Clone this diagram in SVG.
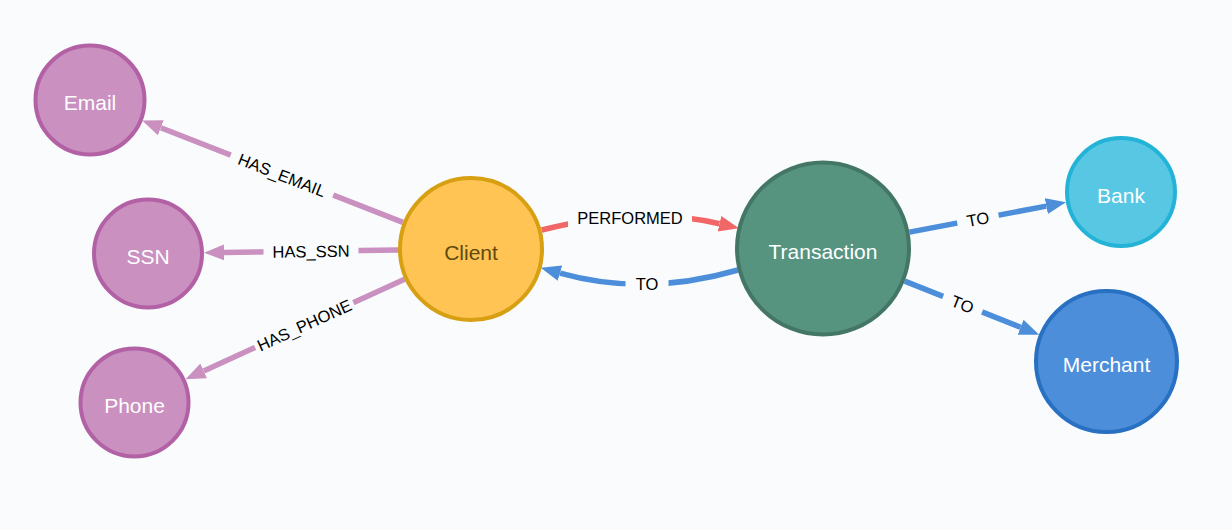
<svg xmlns="http://www.w3.org/2000/svg" width="1232" height="530" viewBox="0 0 1232 530">
<style>
.bg{fill:#f9fbfd}
.ntext{font-family:"Liberation Sans",Arial,sans-serif;font-size:21px;text-anchor:middle;fill:#ffffff}
.etext{font-family:"Liberation Sans",Arial,sans-serif;font-size:16.5px;text-anchor:middle;fill:#000000}
.edge{fill:none;stroke-width:5.5}
.lblbg{fill:#f9fbfd}
.purple{fill:#C990C0;stroke:#b261a5;stroke-width:4}
</style>
<defs>
<marker id="aP" markerUnits="userSpaceOnUse" markerWidth="22" markerHeight="20" refX="0" refY="9" orient="auto" viewBox="0 0 22 20"><path d="M0,1 L20,9 L0,17 Z" fill="#C990C0"/></marker>
<marker id="aR" markerUnits="userSpaceOnUse" markerWidth="22" markerHeight="20" refX="0" refY="9" orient="auto" viewBox="0 0 22 20"><path d="M0,1 L20,9 L0,17 Z" fill="#F16667"/></marker>
<marker id="aB" markerUnits="userSpaceOnUse" markerWidth="22" markerHeight="20" refX="0" refY="9" orient="auto" viewBox="0 0 22 20"><path d="M0,1 L20,9 L0,17 Z" fill="#4C8EDA"/></marker>
</defs>
<rect class="bg" x="0" y="0" width="1232" height="530"/>
<g id="connectors">
  <path class="edge" stroke="#C990C0" d="M403,222.4 L160.8,127.7" marker-end="url(#aP)"/>
  <g transform="translate(282,175) rotate(21.36)"><rect class="lblbg" x="-55" y="-10" width="110" height="20"/><text class="etext" x="0" y="6">HAS_EMAIL</text></g>

  <path class="edge" stroke="#C990C0" d="M398,250 L224,252.4" marker-end="url(#aP)"/>
  <g transform="translate(311,251.2) rotate(-0.8)"><rect class="lblbg" x="-47.5" y="-10" width="95" height="20"/><text class="etext" x="0" y="6">HAS_SSN</text></g>

  <path class="edge" stroke="#C990C0" d="M404.6,279.3 L203.7,370.9" marker-end="url(#aP)"/>
  <g transform="translate(304.2,325.1) rotate(-24.5)"><rect class="lblbg" x="-54" y="-10" width="108" height="20"/><text class="etext" x="0" y="6">HAS_PHONE</text></g>

  <path class="edge" stroke="#F16667" d="M541.7,230 Q640,205 719.5,223.7" marker-end="url(#aR)"/>
  <g transform="translate(630,218)"><rect class="lblbg" x="-62" y="-11" width="124" height="22"/><text class="etext" x="0" y="6">PERFORMED</text></g>

  <path class="edge" stroke="#4C8EDA" d="M738,270 Q645,297 560,273.1" marker-end="url(#aB)"/>
  <g transform="translate(647,283.5)"><rect class="lblbg" x="-21.5" y="-11" width="43" height="22"/><text class="etext" x="0" y="6">TO</text></g>

  <path class="edge" stroke="#4C8EDA" d="M909.5,232.1 L1046.3,206.1" marker-end="url(#aB)"/>
  <g transform="translate(977.9,219.1) rotate(-10.74)"><rect class="lblbg" x="-21" y="-10" width="42" height="20"/><text class="etext" x="0" y="6">TO</text></g>

  <path class="edge" stroke="#4C8EDA" d="M904.7,281.1 L1020.6,327.3" marker-end="url(#aB)"/>
  <g transform="translate(962.6,304.2) rotate(21.73)"><rect class="lblbg" x="-21" y="-10" width="42" height="20"/><text class="etext" x="0" y="6">TO</text></g>
</g>
<g id="node-email"><circle class="purple" cx="90" cy="100" r="54.5"/><text class="ntext" x="90" y="110">Email</text></g>
<g id="node-ssn"><circle class="purple" cx="148" cy="253.5" r="54"/><text class="ntext" x="148" y="264">SSN</text></g>
<g id="node-phone"><circle class="purple" cx="134.5" cy="402.5" r="54"/><text class="ntext" x="134.5" y="412.5">Phone</text></g>
<g id="node-client"><circle cx="471" cy="249" r="71" fill="#FFC454" stroke="#d7a013" stroke-width="4"/><text class="ntext" x="471" y="259.5" style="fill:#604A0E">Client</text></g>
<g id="node-transaction"><circle cx="823" cy="248.5" r="86" fill="#569480" stroke="#447666" stroke-width="4"/><text class="ntext" x="823" y="259">Transaction</text></g>
<g id="node-bank"><circle cx="1121" cy="192" r="54" fill="#57C7E3" stroke="#23b3d7" stroke-width="4"/><text class="ntext" x="1121" y="202.5">Bank</text></g>
<g id="node-merchant"><circle cx="1106.5" cy="361.5" r="70.5" fill="#4C8EDA" stroke="#2870c2" stroke-width="4"/><text class="ntext" x="1106.5" y="372">Merchant</text></g>
</svg>
